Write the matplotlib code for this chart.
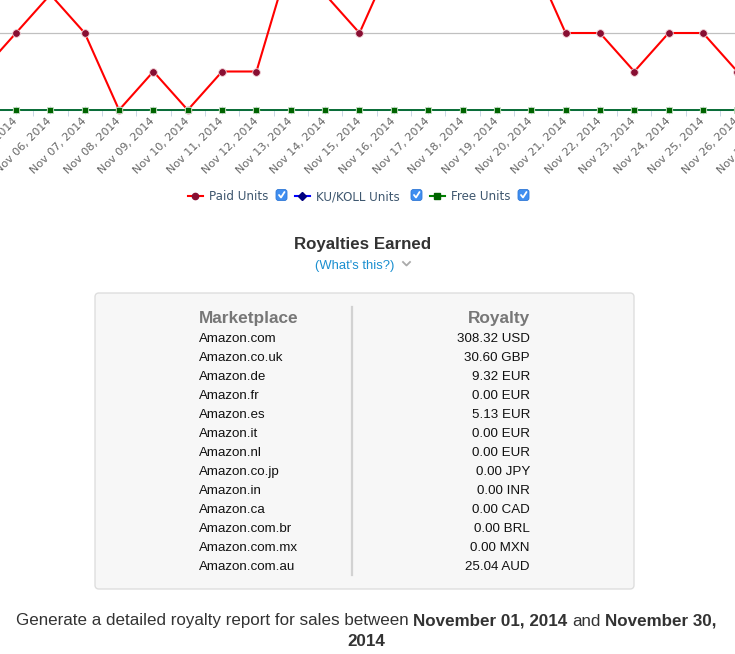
import matplotlib
matplotlib.use("Agg")
import matplotlib.pyplot as plt
from matplotlib.lines import Line2D
from matplotlib.patches import FancyBboxPatch
from matplotlib.ticker import FixedLocator

# Units chart data (visible part of the month, values estimated)
days = ["Nov %02d, 2014" % d for d in range(4, 28)]
paid_units = [1, 2, 3, 2, 0, 1, 0, 1, 1, 4, 3, 2, 4, 5, 3, 5, 4, 2, 2, 1, 2, 2, 1, 2]
ku_units = [0] * len(days)
free_units = [0] * len(days)

# Royalty table
marketplaces = ["Amazon.com", "Amazon.co.uk", "Amazon.de", "Amazon.fr", "Amazon.es",
                "Amazon.it", "Amazon.nl", "Amazon.co.jp", "Amazon.in", "Amazon.ca",
                "Amazon.com.br", "Amazon.com.mx", "Amazon.com.au"]
royalties = [308.32, 30.60, 9.32, 0.00, 5.13, 0.00, 0.00, 0.00, 0.00, 0.00, 0.00, 0.00, 25.04]
currencies = ["USD", "GBP", "EUR", "EUR", "EUR", "EUR", "EUR", "JPY", "INR", "CAD", "BRL", "MXN", "AUD"]

W, H = 735, 654
fig = plt.figure(figsize=(W / 100, H / 100), dpi=100)
fig.patch.set_facecolor("white")


def px_axes(left, top, right, bottom):
    return fig.add_axes([left / W, 1 - bottom / H, (right - left) / W, (bottom - top) / H])


# ---- chart (cropped screenshot: axes runs past the figure edges)
step = 34.35
x0 = -18.35
ax = px_axes(x0 - step / 2, 110 - 6 * 38.5, x0 + (len(days) - 0.5) * step, 110)
ax.set_xlim(-0.5, len(days) - 0.5)
ax.set_ylim(0, 6)
idx = list(range(len(days)))

ax.plot(idx, paid_units, color="#ff0000", lw=1.5, marker="o", ms=5.5,
        mfc="#880e32", mec="#f4d0d6", mew=0.6, clip_on=False, zorder=4)
ax.plot(idx, ku_units, color="#0000ff", lw=1.1, marker="D", ms=4,
        mfc="#000080", mec="white", mew=0.5, clip_on=False, zorder=3)
ax.plot(idx, free_units, color="#008000", lw=1.1, marker="s", ms=5,
        mfc="#006400", mec="#c8e0c8", mew=0.6, clip_on=False, zorder=5)

ax.set_yticks([0, 2, 4, 6])
ax.yaxis.grid(True, color="#c0c0c0", lw=0.9)
ax.tick_params(axis="y", left=False, labelleft=False)
for s in ["top", "right", "left"]:
    ax.spines[s].set_visible(False)
ax.spines["bottom"].set_color("#c0d0e0")

ax.set_xticks(idx)
ax.set_xticklabels(days, rotation=45, ha="right", va="center",
                   rotation_mode="anchor", fontsize=8, color="#666666")
ax.tick_params(axis="x", which="major", length=0, pad=7)
ax.xaxis.set_minor_locator(FixedLocator([i + 0.5 for i in range(-1, len(days))]))
ax.tick_params(axis="x", which="minor", length=4, color="#c0d0e0")
ax.set_facecolor("none")

# ---- overlay in pixel coordinates
ov = fig.add_axes([0, 0, 1, 1])
ov.set_xlim(0, W)
ov.set_ylim(H, 0)
ov.axis("off")
ov.patch.set_alpha(0)

# legend
legend_items = [
    ("Paid Units", "#ff0000", "o", "#880e32", 188, 275),
    ("KU/KOLL Units", "#0000ff", "D", "#000080", 295, 410),
    ("Free Units", "#008000", "s", "#006400", 430, 517),
]
ly = 195.5
for label, lc, mk, mc, lx, cbx in legend_items:
    ov.add_line(Line2D([lx, lx + 15], [ly, ly], color=lc, lw=1.5))
    ov.plot([lx + 7.5], [ly], marker=mk, ms=4.5 if mk != "D" else 4, color=mc, mec=mc)
    ov.text(lx + 21, ly + 4.5, label, fontsize=8.6, color="#3e576f", va="baseline", ha="left")
    ov.add_patch(FancyBboxPatch((cbx + 1, ly - 6), 11, 11,
                                boxstyle="round,pad=0,rounding_size=2.5",
                                fc="#3f8ef0", ec="#2f78d6", lw=0.6))
    ov.add_line(Line2D([cbx + 4, cbx + 6, cbx + 9.5], [ly - 0.5, ly + 2, ly - 3.5],
                       color="white", lw=1.3, solid_capstyle="round"))

# royalties heading
ov.text(363, 249.5, "Royalties Earned", fontsize=12.2, fontweight="bold", color="#333333",
        ha="center", va="baseline", family="Liberation Sans")
ov.text(355, 268.5, "(What's this?)", fontsize=9.4, color="#1a8fd0",
        ha="center", va="baseline", family="Liberation Sans")
ov.add_line(Line2D([403, 406.5, 410], [262, 265.5, 262], color="#aaaaaa", lw=1.3))

# table box
ov.add_patch(FancyBboxPatch((95, 293), 539, 296, boxstyle="round,pad=0,rounding_size=4",
                            fc="#f7f7f7", ec="#dedede", lw=1))
ov.add_line(Line2D([352, 352], [307, 575], color="#d2d2d2", lw=1.6))
ov.text(199, 323.5, "Marketplace", fontsize=12.4, fontweight="bold", color="#777777",
        ha="left", va="baseline", family="Liberation Sans")
ov.text(530, 323.5, "Royalty", fontsize=12.4, fontweight="bold", color="#777777",
        ha="right", va="baseline", family="Liberation Sans")
for i, (m, r, c) in enumerate(zip(marketplaces, royalties, currencies)):
    y = 342 + 19 * i
    ov.text(199, y, m, fontsize=9.6, color="#111111", ha="left", va="baseline",
            family="Liberation Sans")
    ov.text(530, y, "%.2f %s" % (r, c), fontsize=9.6, color="#111111", ha="right",
            va="baseline", family="Liberation Sans")

# bottom sentence with bold dates
pieces = [("Generate a detailed royalty report for sales between", "normal"),
          ("November 01, 2014", "bold"), ("and", "normal"), ("November 30,", "bold")]
fs = 12.25
renderer = fig.canvas.get_renderer()


def width(s, weight):
    t = ov.text(0, 0, s, fontsize=fs, fontweight=weight, family="Liberation Sans")
    w = t.get_window_extent(renderer).width
    t.remove()
    return w


space = width("n n", "normal") - width("nn", "normal")
widths = [width(s, wt) for s, wt in pieces]
total = sum(widths) + space * (len(pieces) - 1)
x = 366.5 - total / 2
for (s, wt), w in zip(pieces, widths):
    ov.text(x, 625.5, s, fontsize=fs, fontweight=wt, color="#333333", ha="left",
            va="baseline", family="Liberation Sans")
    x += w + space
ov.text(366, 645.5, "2014", fontsize=fs, fontweight="bold", color="#333333", ha="center",
        va="baseline", family="Liberation Sans")

fig.savefig("out.png", dpi=100, facecolor="white")
